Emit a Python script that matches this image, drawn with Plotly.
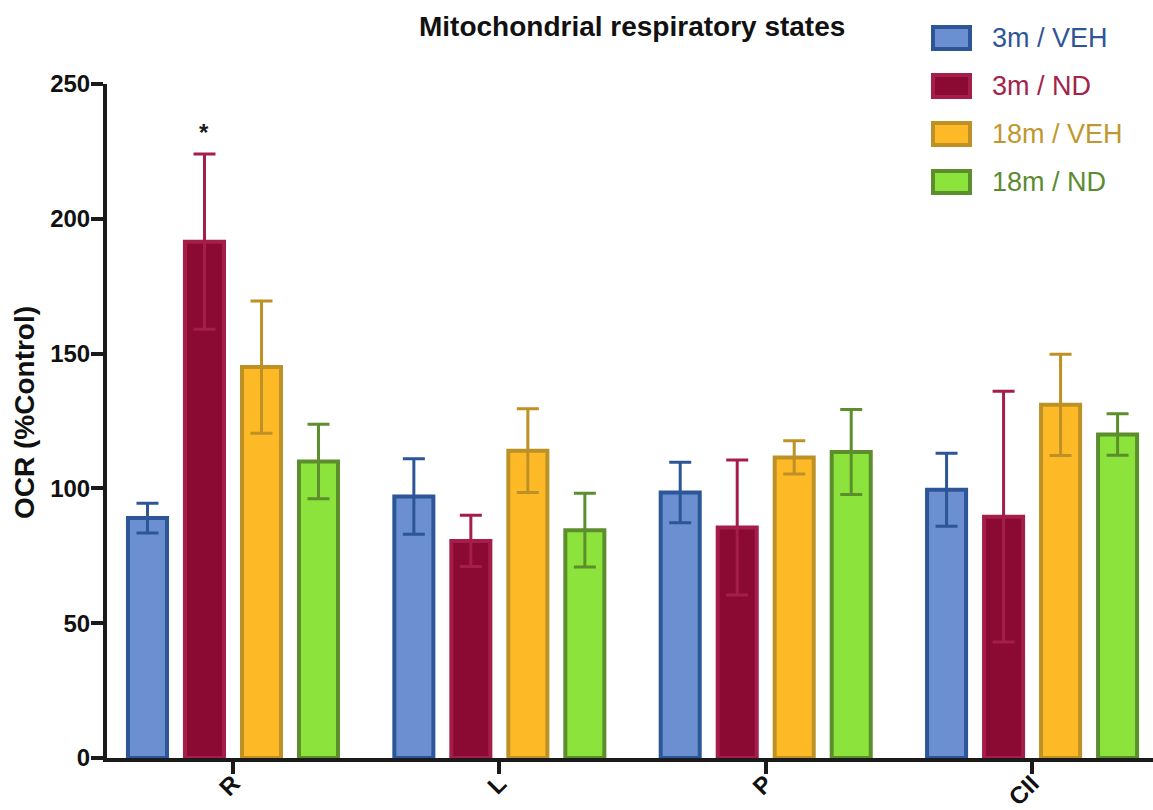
import plotly.graph_objects as go

categories = ["R", "L", "P", "CII"]
series_names = ["3m / VEH", "3m / ND", "18m / VEH", "18m / ND"]
means = {
    "3m / VEH": [89, 97, 98.5, 99.5],
    "3m / ND": [191.5, 80.5, 85.5, 89.5],
    "18m / VEH": [145, 114, 111.5, 131],
    "18m / ND": [110, 84.5, 113.5, 120],
}
errors = {
    "3m / VEH": [5.5, 14, 11.2, 13.5],
    "3m / ND": [32.5, 9.5, 25, 46.5],
    "18m / VEH": [24.5, 15.5, 6.2, 18.8],
    "18m / ND": [13.8, 13.7, 15.8, 7.7],
}
fills = ["#6B8FD0", "#8B0A33", "#FDBA26", "#8BE33B"]
edges = ["#2C5697", "#A51E4A", "#BE9127", "#5D8E2D"]
text_colors = ["#2F5597", "#A3234B", "#C0982F", "#5B8B30"]
y_ticks = [0, 50, 100, 150, 200, 250]

W, H = 1153, 810
L_M, R_M, T_M, B_M = 107, 0, 84, 52
pw, ph = W - L_M - R_M, H - T_M - B_M

def px_x(x):
    return (x - L_M) / pw

def px_y(y):
    return (H - B_M - y) / ph

FONT = "Liberation Sans, Arial, sans-serif"

fig = go.Figure()
for i, name in enumerate(series_names):
    fig.add_trace(go.Bar(
        x=categories, y=means[name], name=name,
        marker=dict(color=fills[i], line=dict(color=edges[i], width=4)),
        error_y=dict(type="data", array=errors[name], visible=True,
                     color=edges[i], thickness=3, width=11),
        showlegend=False,
    ))

# asterisk above R / 3m ND
fig.add_annotation(x="R", y=means["3m / ND"][0] + errors["3m / ND"][0],
                   xshift=-28.5, yshift=6, yanchor="bottom", showarrow=False,
                   text="<b>*</b>", font=dict(family=FONT, size=24, color="#1a1a1a"))

# manual legend
row_centers = [38, 86, 134, 182]
for i, name in enumerate(series_names):
    c = row_centers[i]
    fig.add_shape(type="rect", xref="paper", yref="paper",
                  x0=px_x(933), x1=px_x(970), y0=px_y(c + 11), y1=px_y(c - 11),
                  fillcolor=fills[i], line=dict(color=edges[i], width=4), layer="above")
    fig.add_annotation(xref="paper", yref="paper", x=px_x(990), y=px_y(c),
                       xanchor="left", yanchor="middle", showarrow=False,
                       text=name, font=dict(family=FONT, size=27, color=text_colors[i]))

# title
fig.add_annotation(xref="paper", yref="paper", x=px_x(632), y=px_y(26),
                   xanchor="center", yanchor="middle", showarrow=False,
                   text="<b>Mitochondrial respiratory states</b>",
                   font=dict(family=FONT, size=28, color="#111111"))
# y title
fig.add_annotation(xref="paper", yref="paper", x=px_x(24), y=px_y(413),
                   xanchor="center", yanchor="middle", showarrow=False, textangle=-90,
                   text="<b>OCR (%Control)</b>",
                   font=dict(family=FONT, size=28, color="#111111"))

fig.update_layout(
    width=W, height=H,
    margin=dict(l=L_M, r=R_M, t=T_M, b=B_M, autoexpand=False),
    paper_bgcolor="white", plot_bgcolor="white",
    barmode="group", bargap=0.144, bargroupgap=0.315,
    font=dict(family=FONT, color="#111111"),
)
fig.update_xaxes(
    range=[-0.473, 3.454], showline=True, linecolor="#1a1a1a", linewidth=4,
    ticks="outside", ticklen=12, tickwidth=4, tickcolor="#1a1a1a",
    tickangle=-45, showgrid=False, zeroline=False, ticklabelstandoff=-14,
    tickfont=dict(family=FONT, size=24, color="#111111", weight="bold"),
)
fig.update_yaxes(
    range=[0, 250], tickvals=y_ticks, showline=True, linecolor="#1a1a1a", linewidth=4,
    ticks="outside", ticklen=12, tickwidth=4, tickcolor="#1a1a1a",
    showgrid=False, zeroline=False, ticklabelstandoff=-4,
    tickfont=dict(family=FONT, size=24, color="#111111", weight="bold"),
)

fig.write_html("out.html")
